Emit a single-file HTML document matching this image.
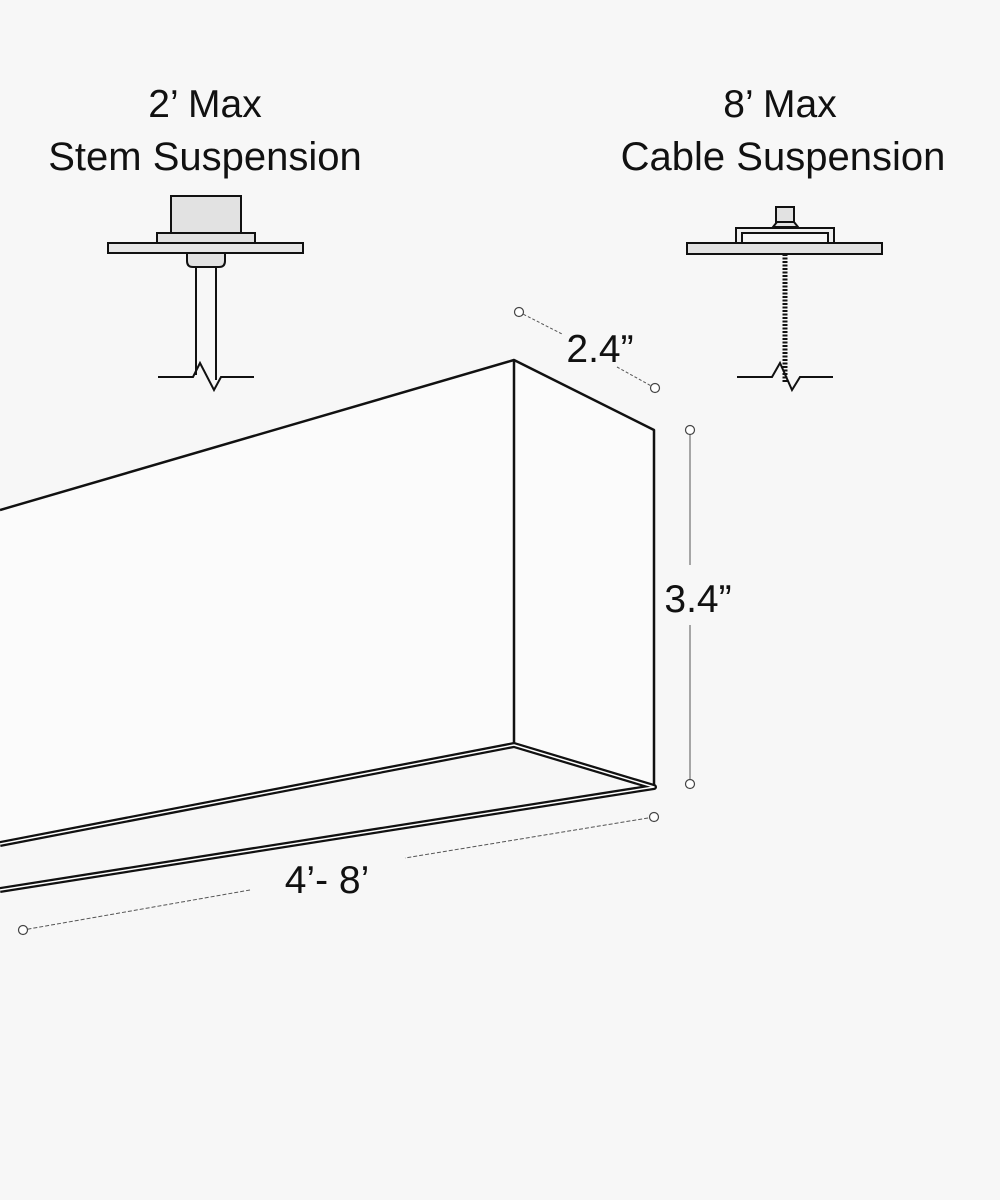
<!DOCTYPE html>
<html><head><style>
html,body{margin:0;padding:0;background:#f7f7f7;}
svg{display:block;}
text{font-family:"Liberation Sans",sans-serif;fill:#111;}
</style></head><body>
<svg width="1000" height="1200" viewBox="0 0 1000 1200" xmlns="http://www.w3.org/2000/svg">
<rect width="1000" height="1200" fill="#f7f7f7"/>
<text x="205" y="117" font-size="39" text-anchor="middle">2’ Max</text>
<text x="205" y="170" font-size="40" text-anchor="middle">Stem Suspension</text>
<text x="780" y="117" font-size="39" text-anchor="middle">8’ Max</text>
<text x="783" y="170" font-size="40" text-anchor="middle">Cable Suspension</text>

<!-- stem mount -->
<g stroke="#111" stroke-width="2" fill="#e2e2e2">
<rect x="171" y="196" width="70" height="37"/>
<rect x="157" y="233" width="98" height="10"/>
<rect x="108" y="243" width="195" height="10" fill="#e6e6e6"/>
<path d="M187 253 v8 q0 6 6 6 h26 q6 0 6 -6 v-8 z"/>
</g>
<g stroke="#111" stroke-width="2" fill="none">
<path d="M196 267 V375 M216 267 V380"/>
<path d="M158 377 H193 L200 363 L214 390 L221 377 H254"/>
</g>

<!-- cable mount -->
<g stroke="#111" stroke-width="2" fill="#e2e2e2">
<rect x="776" y="207" width="18" height="15"/>
<path d="M773 227 L777 222 H794 L798 227 Z"/>
<rect x="736" y="228" width="98" height="16" fill="#efefef"/>
<rect x="742" y="233" width="86" height="11" fill="#f7f7f7"/>
<rect x="687" y="243" width="195" height="11"/>
</g>
<path d="M785 254 V382" stroke="#111" stroke-width="5" stroke-dasharray="2 1.5"/>
<path d="M737 377 H772 L780 363 L792 390 L800 377 H833" stroke="#111" stroke-width="2" fill="none"/>

<!-- fixture -->
<g stroke="#111" fill="none" stroke-linejoin="round">
<path d="M0 510 L514 360 L514 745 L0 844 Z" fill="#fbfbfb" stroke="none"/>
<path d="M514 360 L654 430 L654 787 L514 745 Z" fill="#fbfbfb" stroke-width="2.5"/>
<path d="M0 510 L514 360" stroke-width="2.5"/>
<path d="M0 844 L514 745 L654 787 L0 890" stroke-width="6"/>
<path d="M0 844 L514 745 L654 787 L0 890" stroke="#fff" stroke-width="1.5"/>
</g>

<!-- dimensions -->
<g stroke="#555" stroke-width="1" fill="none">
<path d="M519 312 L562 334 M617 367 L655 388" stroke-dasharray="3 2"/>
<path d="M690 430 V565 M690 625 V784"/>
<path d="M654 817 L405 858 M250 890 L23 930" stroke-dasharray="4 2"/>
</g>
<g stroke="#444" stroke-width="1.2" fill="#fff">
<circle cx="519" cy="312" r="4.5"/>
<circle cx="655" cy="388" r="4.5"/>
<circle cx="690" cy="430" r="4.5"/>
<circle cx="690" cy="784" r="4.5"/>
<circle cx="654" cy="817" r="4.5"/>
<circle cx="23" cy="930" r="4.5"/>
</g>
<text x="600" y="362" font-size="39" text-anchor="middle">2.4”</text>
<text x="698" y="612" font-size="39" text-anchor="middle">3.4”</text>
<text x="327" y="893" font-size="39" text-anchor="middle">4’- 8’</text>
</svg>
</body></html>
